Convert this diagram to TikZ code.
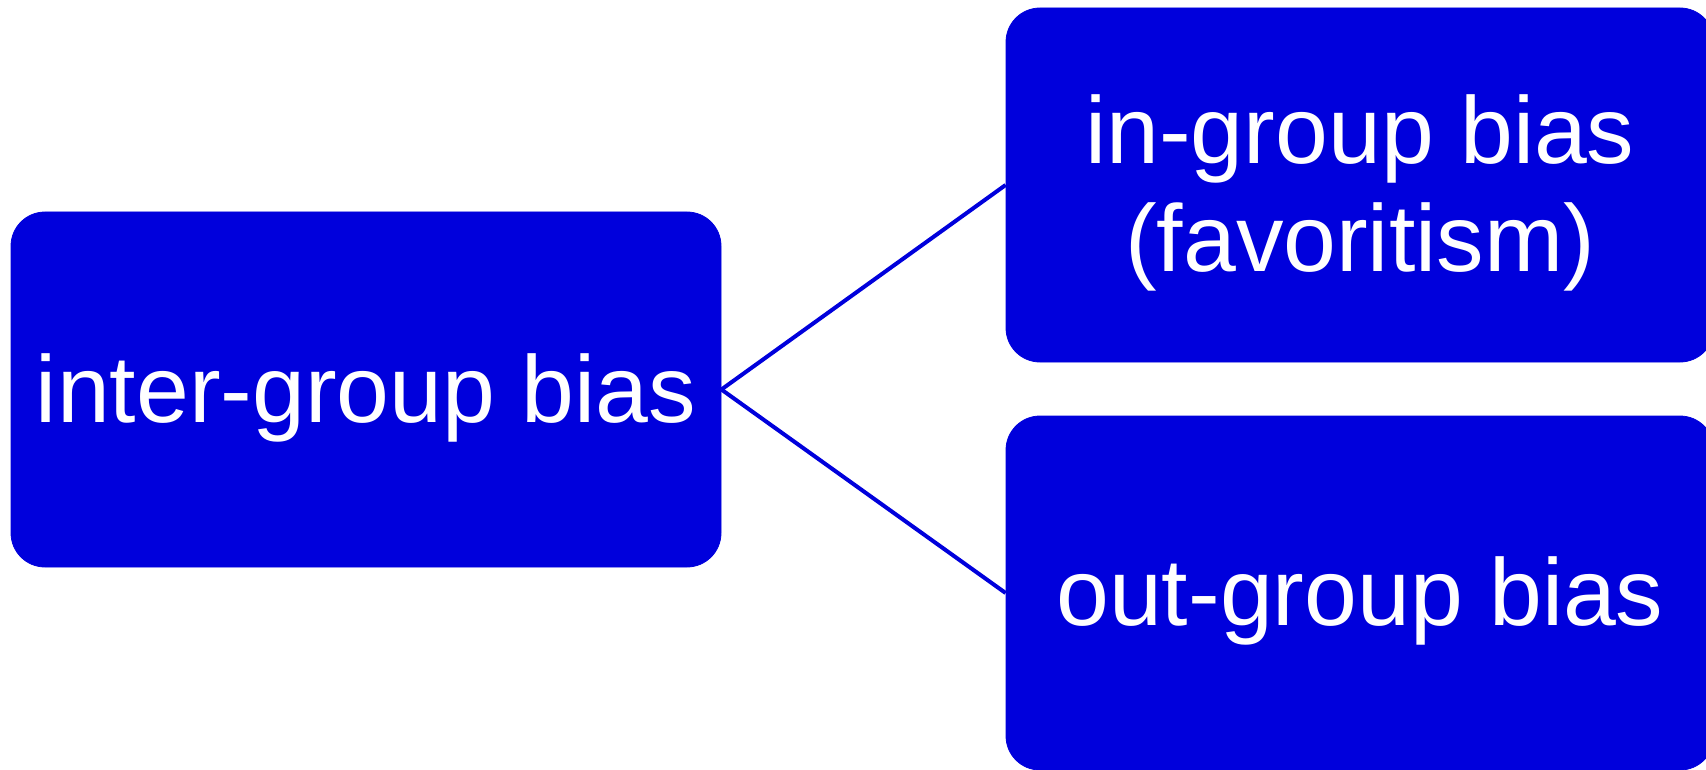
\documentclass[tikz,border=0pt]{standalone}
\usepackage{fontspec}
\setmainfont{Liberation Sans}
\usepackage{xcolor}
\definecolor{boxblue}{RGB}{0,0,220}
\newcommand{\apstrut}{\rule[-0.212em]{0pt}{1.117em}}

\begin{document}
\begin{tikzpicture}[x=0.5pt,y=0.5pt,
  biasbox/.style={fill=boxblue,draw=boxblue,rounded corners=17pt,text=white,
    minimum width=354pt,minimum height=177pt,inner sep=0pt,align=center,
    font=\fontsize{47.5pt}{48.5pt}\selectfont},
  link/.style={draw=boxblue,line width=2pt}]
\useasboundingbox (0,0) rectangle (1706,-770);
\node [biasbox,minimum width=355pt,minimum height=177.5pt] (intergroup) at (366,-389.5) {\apstrut inter-group bias};
\node [biasbox] (ingroup) at (1360,-185) {\apstrut in-group bias\\(favoritism)\apstrut};
\node [biasbox] (outgroup) at (1360,-593) {\apstrut out-group bias};
\draw [link] (intergroup.east) -- (ingroup.west);
\draw [link] (intergroup.east) -- (outgroup.west);
\end{tikzpicture}
\end{document}
